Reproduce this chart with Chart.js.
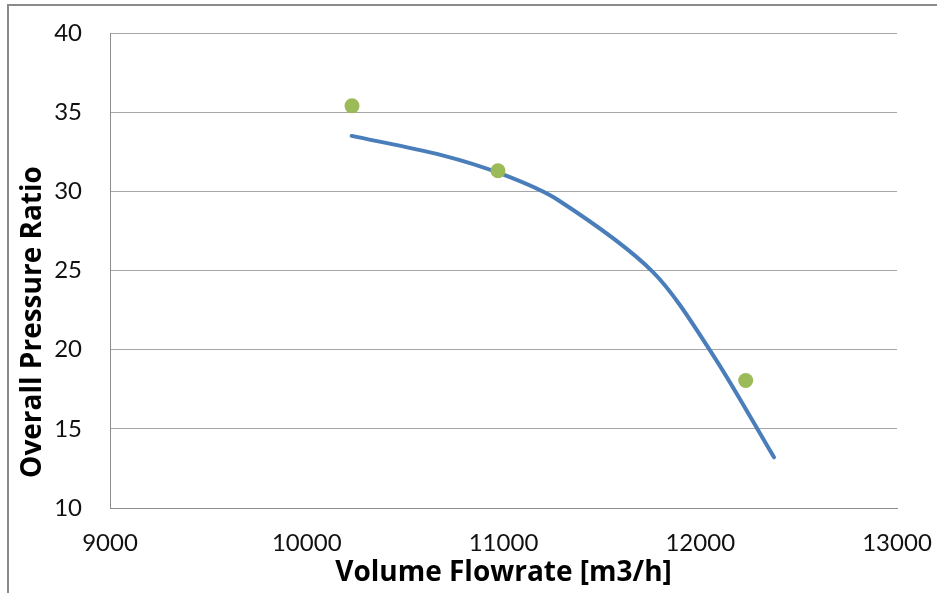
<!DOCTYPE html>
<html>
<head>
<meta charset="utf-8">
<script src="https://cdn.jsdelivr.net/npm/chart.js@4"></script>
<style>
  body { margin: 0; background: #fff; }
  #wrap { width: 937px; height: 593px; }
</style>
</head>
<body>
<div id="wrap"><canvas id="chart" width="937" height="593"></canvas></div>
<script>
// curve
let curve_flow = [10228, 10680, 11000, 11277, 11760, 12065, 12375];
let curve_ratio = [33.5, 32.3, 31.05, 29.45, 24.9, 19.66, 13.2];

// measured points
let meas_flow = [10230, 10972, 12231];
let meas_ratio = [35.4, 31.3, 18.05];

let x_title = 'Volume Flowrate [m3/h]';
let y_title = 'Overall Pressure Ratio';

let TICK_FONT = 'Lato';
let TITLE_FONT = 'Open Sans';

let frame_plugin = {
  id: 'frame',
  beforeDraw(chart) {
    let ctx = chart.ctx;
    ctx.save();
    ctx.strokeStyle = '#8a8a8a';
    ctx.lineWidth = 2;
    ctx.beginPath();
    ctx.moveTo(8, 593);
    ctx.lineTo(8, 5);
    ctx.lineTo(937, 5);
    ctx.stroke();
    ctx.restore();
  },
  afterDraw(chart) {
    let ctx = chart.ctx;
    ctx.save();
    ctx.translate(33, 322);
    ctx.rotate(-Math.PI / 2);
    ctx.font = `bold 28px "${TITLE_FONT}"`;
    ctx.fillStyle = '#000';
    ctx.textAlign = 'center';
    ctx.textBaseline = 'middle';
    ctx.fillText(y_title, 0, 0);
    ctx.restore();
  }
};

new Chart(document.getElementById('chart'), {
  type: 'scatter',
  data: {
    datasets: [
      {
        data: meas_flow.map((f, i) => ({x: f, y: meas_ratio[i]})),
        backgroundColor: '#9bbb59',
        borderColor: '#9bbb59',
        pointRadius: 7.5,
        borderWidth: 0,
        order: 1
      },
      {
        data: curve_flow.map((f, i) => ({x: f, y: curve_ratio[i]})),
        showLine: true,
        borderColor: '#4a7ebb',
        borderWidth: 4,
        pointRadius: 0,
        tension: 0.3,
        borderCapStyle: 'round',
        order: 2
      }
    ]
  },
  options: {
    responsive: false,
    animation: false,
    devicePixelRatio: 1,
    layout: { padding: { top: 33, right: 40, left: 0, bottom: 0 } },
    plugins: { legend: { display: false }, tooltip: { enabled: false } },
    scales: {
      x: {
        type: 'linear', min: 9000, max: 13000,
        afterFit: s => { s.height = 85; s.paddingLeft = 0; s.paddingRight = 0; },
        ticks: { stepSize: 1000, padding: 21, color: '#111', font: { family: TICK_FONT, size: 24 }, callback: v => String(v) },
        grid: { display: false, drawTicks: false },
        border: { display: true, color: '#8c8c8c', width: 1 },
        title: { display: true, text: x_title, color: '#000', padding: { top: 0, bottom: 3 }, font: { family: TITLE_FONT, size: 28, weight: 'bold' } }
      },
      y: {
        min: 10, max: 40,
        afterFit: s => { s.width = 110; s.paddingTop = 0; s.paddingBottom = 0; },
        ticks: { stepSize: 5, padding: 28, color: '#111', font: { family: TICK_FONT, size: 24 } },
        grid: { color: '#a6a6a6', lineWidth: 1, drawTicks: false },
        border: { display: true, color: '#8c8c8c', width: 1 }
      }
    }
  },
  plugins: [frame_plugin]
});
</script>
</body>
</html>
